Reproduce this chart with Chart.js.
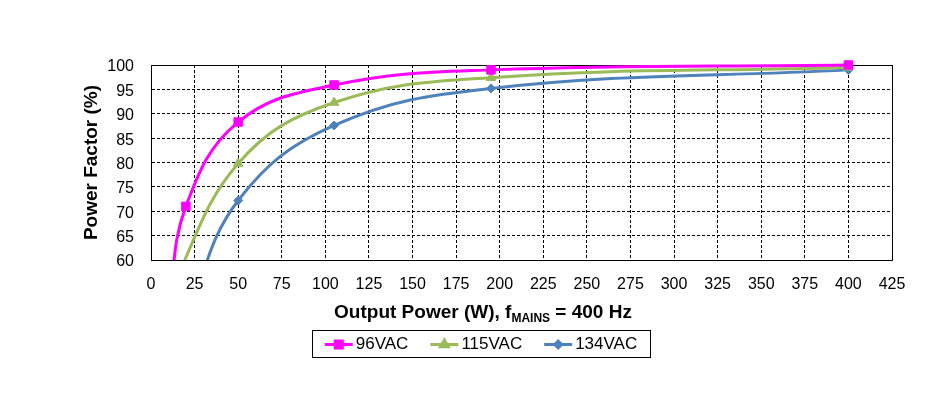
<!DOCTYPE html>
<html>
<head>
<meta charset="utf-8">
<script src="https://cdn.jsdelivr.net/npm/chart.js@4.4.0/dist/chart.umd.min.js"></script>
<style>
    html, body { margin: 0; padding: 0; background: #fff; }
</style>
</head>
<body>
<canvas id="pfChart" width="945" height="399"></canvas>
<script>
// ── DATA ────────────────────────────────────────────────────
// first point of each series sits below 60 % and is only seen as the curve leaving the plot
const power96  = [10, 20, 50, 105, 195, 400];
const pf96     = [50, 71, 88.3, 95.9, 99.0, 100];

const power115 = [10, 50, 105, 195, 400];
const pf115    = [53, 79.8, 92.3, 97.4, 99.5];

const power134 = [20, 50, 105, 195, 400];
const pf134    = [48, 72.2, 87.6, 95.2, 99.0];

const seriesNames = ['96VAC', '115VAC', '134VAC'];
const xTitleParts = ['Output Power (W), f', 'MAINS', ' = 400 Hz'];
const yTitle      = 'Power Factor (%)';

const FONT = '"Liberation Sans", Arial, sans-serif';

const toPoints = (xs, ys) => xs.map((x, i) => ({ x, y: ys[i] }));

// hide markers that fall under the visible range
const markerSize = r => ctx => (ctx.raw && ctx.raw.y < 60 ? 0 : r);

// ── PLUGINS ─────────────────────────────────────────────────
// solid frame round the plot (top + right; bottom/left come from axis borders)
const plotFrame = {
    id: 'plotFrame',
    beforeDatasetsDraw(chart) {
        const { ctx, chartArea: a } = chart;
        ctx.save();
        ctx.strokeStyle = '#000';
        ctx.lineWidth = 1;
        ctx.strokeRect(Math.round(a.left) + 0.5, Math.round(a.top) + 0.5,
                       Math.round(a.right - a.left), Math.round(a.bottom - a.top));
        ctx.restore();
    }
};

// x-axis title with the subscript
const xTitle = {
    id: 'xTitle',
    afterDraw(chart) {
        const c = chart.ctx;
        const big   = 'bold 19px ' + FONT;
        const small = 'bold 12px ' + FONT;
        const parts = [
            { t: xTitleParts[0], f: big,   dy: 0 },
            { t: xTitleParts[1], f: small, dy: 4 },
            { t: xTitleParts[2], f: big,   dy: 0 }
        ];
        c.save();
        let total = 0;
        parts.forEach(p => { c.font = p.f; p.w = c.measureText(p.t).width; total += p.w; });
        let x = 483 - total / 2;
        const base = 318;
        c.fillStyle = '#000';
        c.textBaseline = 'alphabetic';
        parts.forEach(p => {
            c.font = p.f;
            c.fillText(p.t, x, base + p.dy);
            x += p.w;
        });
        c.restore();
    }
};

// boxed legend with line + marker samples
const boxLegend = {
    id: 'boxLegend',
    afterDraw(chart) {
        const c = chart.ctx;
        const sets = chart.data.datasets;
        const sample = 28, gapText = 3, gapItem = 22;
        const boxX = 312, boxY = 330, boxW = 338, boxH = 27;
        c.save();
        c.font = '17px ' + FONT;
        const widths = sets.map(d => sample + gapText + c.measureText(d.label).width);
        const content = widths.reduce((s, w) => s + w, 0) + gapItem * (sets.length - 1);

        c.strokeStyle = '#000';
        c.lineWidth = 1;
        c.strokeRect(boxX + 0.5, boxY + 0.5, boxW, boxH);

        let x = boxX + (boxW - content) / 2;
        const cy = boxY + boxH / 2 + 1;
        sets.forEach((d, i) => {
            c.strokeStyle = d.borderColor;
            c.fillStyle = d.borderColor;
            c.lineWidth = 3;
            c.beginPath();
            c.moveTo(x, cy);
            c.lineTo(x + sample, cy);
            c.stroke();
            Chart.helpers.drawPoint(c, {
                pointStyle: d.pointStyle,
                radius: d.legendRadius,
                borderWidth: 1,
                rotation: 0
            }, x + sample / 2, cy);

            c.fillStyle = '#000';
            c.textBaseline = 'middle';
            c.textAlign = 'left';
            c.fillText(d.label, x + sample + gapText, cy);
            x += widths[i] + gapItem;
        });
        c.restore();
    }
};

// ── CHART ───────────────────────────────────────────────────
const lineSet = (label, xs, ys, color, style, r, lr) => ({
    label,
    data: toPoints(xs, ys),
    borderColor: color,
    backgroundColor: color,
    pointBackgroundColor: color,
    pointBorderColor: color,
    pointStyle: style,
    pointRadius: markerSize(r),
    pointHoverRadius: markerSize(r),
    pointBorderWidth: 1,
    borderWidth: 3,
    tension: 0.4,
    legendRadius: lr,
    clip: { left: 0, top: false, right: false, bottom: 0 }
});

new Chart(document.getElementById('pfChart'), {
    type: 'line',
    data: {
        datasets: [
            lineSet(seriesNames[0], power96,  pf96,  '#FF00FF', 'rect',     6,   5),
            lineSet(seriesNames[1], power115, pf115, '#9BBB59', 'triangle', 5.5, 4.5),
            lineSet(seriesNames[2], power134, pf134, '#4F81BD', 'rectRot',  4.5, 3.5)
        ]
    },
    options: {
        responsive: false,
        animation: false,
        devicePixelRatio: 1,
        layout: { padding: { left: 80, right: 53, top: 65, bottom: 0 } },
        plugins: {
            legend:  { display: false },
            tooltip: { enabled: false }
        },
        scales: {
            x: {
                type: 'linear',
                min: 0,
                max: 425,
                afterFit: s => { s.height = 139; },
                ticks: {
                    stepSize: 25,
                    color: '#000',
                    padding: 15,
                    maxRotation: 0,
                    font: { family: FONT, size: 16 }
                },
                grid: { color: '#000', lineWidth: 1, drawTicks: false },
                border: { display: true, color: '#000', width: 1, dash: [3, 2] }
            },
            y: {
                min: 60,
                max: 100,
                afterFit: s => { s.width = 71; },
                ticks: {
                    stepSize: 5,
                    color: '#000',
                    padding: 17,
                    labelOffset: 2,
                    font: { family: FONT, size: 16 }
                },
                grid: { color: '#000', lineWidth: 1, drawTicks: false },
                border: { display: true, color: '#000', width: 1, dash: [3, 2] },
                title: {
                    display: true,
                    text: yTitle,
                    color: '#000',
                    padding: 0,
                    font: { family: FONT, size: 19, weight: 'bold' }
                }
            }
        }
    },
    plugins: [plotFrame, xTitle, boxLegend]
});
</script>
</body>
</html>
